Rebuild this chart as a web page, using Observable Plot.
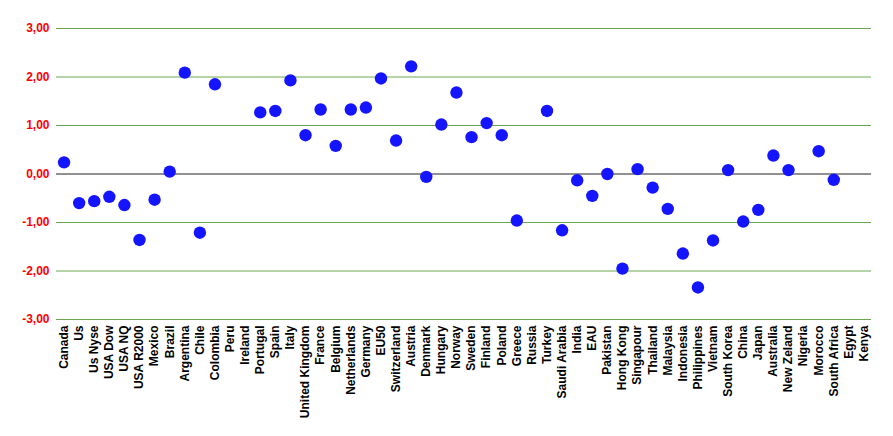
<!DOCTYPE html>
<html>
<head>
<meta charset="utf-8">
<script src="https://cdn.jsdelivr.net/npm/d3@7"></script>
<script src="https://cdn.jsdelivr.net/npm/@observablehq/plot@0.6"></script>
<style>
  html, body { margin: 0; padding: 0; background: #fff; }
  svg { font-family: "Liberation Sans", Arial, sans-serif; }
</style>
</head>
<body>
<div id="chart"></div>
<script>
const categories = ["Canada","Us","Us Nyse","USA Dow","USA NQ","USA R2000","Mexico","Brazil","Argentina","Chile","Colombia","Peru","Ireland","Portugal","Spain","Italy","United Kingdom","France","Belgium","Netherlands","Germany","EU50","Switzerland","Austria","Denmark","Hungary","Norway","Sweden","Finland","Poland","Greece","Russia","Turkey","Saudi Arabia","India","EAU","Pakistan","Hong Kong","Singapour","Thailand","Malaysia","Indonesia","Philippines","Vietnam","South Korea","China","Japan","Australia","New Zeland","Nigeria","Morocco","South Africa","Egypt","Kenya"];
const values = [0.24,-0.60,-0.56,-0.47,-0.64,-1.36,-0.53,0.05,2.09,-1.21,1.85,null,null,1.27,1.30,1.93,0.80,1.33,0.58,1.33,1.37,1.97,0.69,2.22,-0.06,1.02,1.68,0.76,1.05,0.80,-0.96,null,1.30,-1.16,-0.13,-0.45,0.00,-1.95,0.10,-0.28,-0.72,-1.64,-2.34,-1.37,0.08,-0.98,-0.74,0.38,0.08,null,0.47,-0.12,null,null];
const yTicks = [-3,-2,-1,0,1,2,3];
const gridTicks = [-3,-2,-1,1,2,3];

const data = categories.map((c, i) => ({name: c, value: values[i]})).filter(d => d.value != null);

const chart = Plot.plot({
  width: 893,
  height: 436,
  marginLeft: 56,
  marginRight: 22,
  marginTop: 28,
  marginBottom: 117,
  x: {type: "band", domain: categories, padding: 0, round: false},
  y: {domain: [-3, 3]},
  marks: [
    Plot.ruleY(gridTicks, {stroke: "#6aa84f", strokeWidth: 1}),
    Plot.ruleY([0], {stroke: "#222", strokeWidth: 1}),
    Plot.axisY(yTicks, {
      tickSize: 0, tickPadding: 7, label: null,
      tickFormat: d => d.toFixed(2).replace(".", ","),
      fill: "#ff0000", fontWeight: "bold", fontSize: 12
    }),
    Plot.axisX({
      tickSize: 0, tickPadding: 6, tickRotate: -90, label: null,
      fill: "#000", fontWeight: "bold", fontSize: 12
    }),
    Plot.dot(data, {x: "name", y: "value", r: 6.2, fill: "#1414ff", stroke: "none"})
  ]
});
document.getElementById("chart").appendChild(chart);
</script>
</body>
</html>
